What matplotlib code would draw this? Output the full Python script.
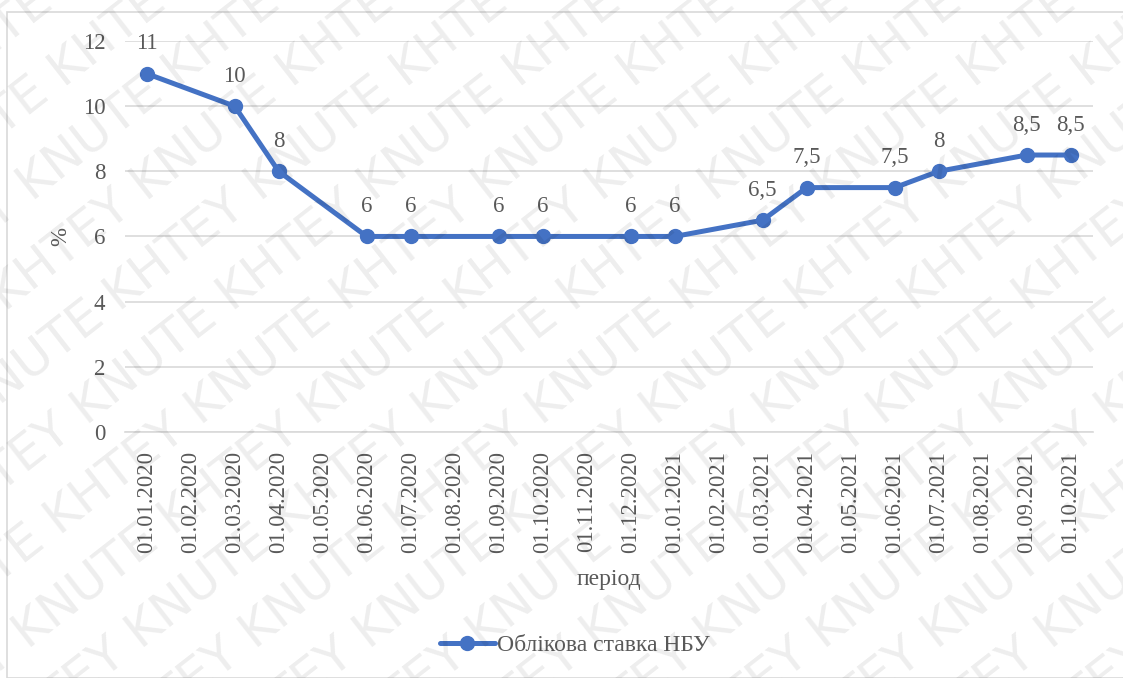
import matplotlib.pyplot as plt
from matplotlib.patches import Rectangle
import numpy as np

# monthly axis 01.01.2020 .. 01.10.2021
months = [f"01.{m:02d}.{y}" for y, ms in ((2020, range(1, 13)), (2021, range(1, 11))) for m in ms]
point_dates = ["01.01.2020", "01.03.2020", "01.04.2020", "01.06.2020", "01.07.2020",
               "01.09.2020", "01.10.2020", "01.12.2020", "01.01.2021", "01.03.2021",
               "01.04.2021", "01.06.2021", "01.07.2021", "01.09.2021", "01.10.2021"]
rates = [11, 10, 8, 6, 6, 6, 6, 6, 6, 6.5, 7.5, 7.5, 8, 8.5, 8.5]

BLUE = "#4472C4"
TEXT = "#595959"
GRID = "#D9D9D9"
plt.rcParams["font.family"] = ["Liberation Serif", "DejaVu Serif"]

fig = plt.figure(figsize=(11.23, 6.78), dpi=100)
fig.patch.set_facecolor("white")
ax = fig.add_axes([0.111, 0.363, 0.862, 0.5765])
ax.set_facecolor("none")

xs = [months.index(d) for d in point_dates]
ax.plot(xs, rates, color=BLUE, lw=3.6, marker="o", ms=10, zorder=3,
        solid_capstyle="round", label="Облікова ставка НБУ")
for x, v in zip(xs, rates):
    lbl = f"{v:g}".replace(".", ",")
    ax.annotate(lbl, (x, v), xytext=(0, 14), textcoords="offset points",
                ha="center", va="bottom", fontsize=16.5, color=TEXT)

ax.set_xlim(-0.5, len(months) - 0.5)
ax.set_ylim(0, 12)
ax.set_yticks(range(0, 13, 2))
ax.set_xticks(range(len(months)))
ax.set_xticklabels(months, rotation=90, fontsize=16.3, color=TEXT)
ax.tick_params(axis="y", length=0, labelsize=16.5, labelcolor=TEXT, pad=14)
ax.tick_params(axis="x", length=0, pad=14)
ax.grid(axis="y", color=GRID, lw=1.2)
for s in ["top", "right", "left"]:
    ax.spines[s].set_visible(False)
ax.spines["bottom"].set_color(GRID)
ax.spines["bottom"].set_linewidth(1.2)

ax.set_ylabel("%", fontsize=16.5, color=TEXT, labelpad=8)
ax.set_xlabel("період", fontsize=17, color=TEXT, labelpad=11)

ax.legend(loc="center", bbox_to_anchor=(575 / 1123, 1 - 645 / 678),
          bbox_transform=fig.transFigure, frameon=False, fontsize=17,
          labelcolor=TEXT, handlelength=2.3, handletextpad=0.1)

# chart area border
fig.patches.append(Rectangle((7 / 1123, 0.0), 1.2, 1 - 12 / 678,
                             transform=fig.transFigure, fill=False,
                             edgecolor=GRID, lw=1.2, zorder=0))

# diagonal watermark
wm = "KHTEY KNUTE " * 7
ang = 38
step = 70 / np.sin(np.radians(ang)) / 1123
for k in range(-13, 13):
    fig.text(k * step, -0.12, wm, rotation=ang, rotation_mode="anchor",
             fontsize=36, family="DejaVu Sans", color="#000000", alpha=0.07,
             ha="left", va="baseline", zorder=10)

fig.savefig("out.png", dpi=100, facecolor="white")
